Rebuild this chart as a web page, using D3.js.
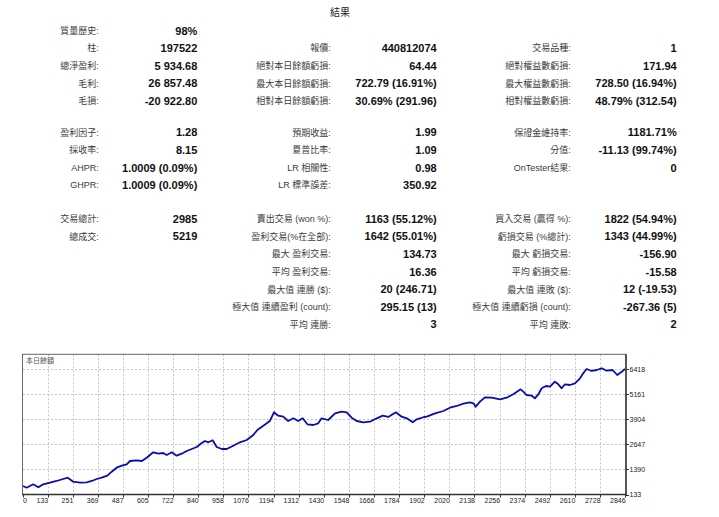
<!DOCTYPE html>
<html>
<head>
<meta charset="utf-8">
<script src="https://cdn.jsdelivr.net/npm/d3@7"></script>
<style>
  html, body { margin: 0; padding: 0; background: #fff; }
  svg { display: block; }
  .lbl { font-family: "Liberation Sans", "Noto Sans CJK TC", sans-serif; font-size: 9px; fill: #3c3c3c; }
  .val { font-family: "Liberation Sans", "Noto Sans CJK TC", sans-serif; font-size: 11px; font-weight: bold; fill: #111; }
  .axis-text { font-family: "Liberation Sans", sans-serif; font-size: 7px; fill: #222; }
</style>
</head>
<body>
<svg width="719" height="517"></svg>
<script>
// table data, one array per group / column
var group1Labels = [
  ["質量歷史:", "柱:", "總淨盈利:", "毛利:", "毛損:"],
  [null, "報價:", "絕對本日餘額虧損:", "最大本日餘額虧損:", "相對本日餘額虧損:"],
  [null, "交易品種:", "絕對權益數虧損:", "最大權益數虧損:", "相對權益數虧損:"]
]
var group1Values = [
  ["98%", "197522", "5 934.68", "26 857.48", "-20 922.80"],
  [null, "440812074", "64.44", "722.79 (16.91%)", "30.69% (291.96)"],
  [null, "1", "171.94", "728.50 (16.94%)", "48.79% (312.54)"]
]
var group2Labels = [
  ["盈利因子:", "採收率:", "AHPR:", "GHPR:"],
  ["預期收益:", "夏普比率:", "LR 相關性:", "LR 標準誤差:"],
  ["保證金維持率:", "分值:", "OnTester結果:", null]
]
var group2Values = [
  ["1.28", "8.15", "1.0009 (0.09%)", "1.0009 (0.09%)"],
  ["1.99", "1.09", "0.98", "350.92"],
  ["1181.71%", "-11.13 (99.74%)", "0", null]
]
var group3Labels = [
  ["交易總計:", "總成交:"],
  ["賣出交易 (won %):", "盈利交易(%在全部):", "最大 盈利交易:", "平均 盈利交易:",
   "最大值 連勝 ($):", "極大值 連續盈利 (count):", "平均 連勝:"],
  ["買入交易 (贏得 %):", "虧損交易 (%總計):", "最大 虧損交易:", "平均 虧損交易:",
   "最大值 連敗 ($):", "極大值 連續虧損 (count):", "平均 連敗:"]
]
var group3Values = [
  ["2985", "5219"],
  ["1163 (55.12%)", "1642 (55.01%)", "134.73", "16.36", "20 (246.71)", "295.15 (13)", "3"],
  ["1822 (54.94%)", "1343 (44.99%)", "-156.90", "-15.58", "12 (-19.53)", "-267.36 (5)", "2"]
]

// balance curve: trade number / balance
var tradeNo = [0, 34, 65, 89, 112, 144, 175, 206, 227, 253, 285, 316, 340, 363, 387, 413, 434, 457, 481, 504,
  520, 551, 575, 598, 629, 653, 676, 692, 716, 739, 763, 786, 810, 833, 857, 872, 888, 908, 927, 951,
  974, 1005, 1036, 1068, 1099, 1118, 1146, 1177, 1196, 1216, 1240, 1263, 1287, 1310, 1331, 1353, 1381, 1404, 1420, 1451,
  1483, 1514, 1538, 1561, 1585, 1616, 1647, 1679, 1707, 1733, 1769, 1796, 1820, 1848, 1867, 1901, 1914, 1953, 1992, 2023,
  2055, 2086, 2117, 2133, 2144, 2164, 2187, 2219, 2258, 2289, 2320, 2355, 2371, 2383, 2407, 2422, 2438, 2454, 2474, 2493,
  2516, 2532, 2548, 2563, 2587, 2610, 2634, 2649, 2665, 2689, 2712, 2736, 2759, 2787, 2809, 2830, 2845]
var balance = [560, 474, 645, 494, 645, 725, 811, 911, 976, 776, 725, 745, 811, 911, 976, 1077, 1278, 1478, 1579, 1649,
  1815, 1850, 1815, 1980, 2251, 2181, 2216, 2116, 2251, 2081, 2181, 2317, 2417, 2518, 2718, 2819, 2753, 2854, 2518, 2417,
  2417, 2583, 2753, 2869, 3120, 3371, 3587, 3823, 4259, 4089, 4039, 3823, 3958, 3823, 3958, 3657, 3622, 3707, 3958, 3873,
  4209, 4290, 4259, 3988, 3823, 3757, 3788, 3958, 4089, 4024, 4259, 4039, 3958, 3757, 3908, 4024, 4039, 4209, 4325, 4490,
  4576, 4691, 4761, 4711, 4541, 4792, 5012, 4992, 4912, 4992, 5163, 5414, 5263, 5128, 5093, 4962, 5163, 5464, 5580, 5545,
  5796, 5665, 5464, 5665, 5630, 5715, 5966, 6217, 6433, 6333, 6383, 6468, 6348, 6383, 6132, 6298, 6433]

var xTickValues = [0, 133, 251, 369, 487, 605, 722, 840, 958, 1076, 1194, 1312, 1430, 1548, 1666, 1784,
  1902, 2020, 2138, 2256, 2374, 2492, 2610, 2728, 2846]
var yTickValues = [133, 1390, 2647, 3904, 5161, 6418]

var svg = d3.select('svg')

svg.append('text')
   .attr('x', 340).attr('y', 12).attr('dy', '0.35em')
   .attr('text-anchor', 'middle')
   .style('font-family', '"Noto Sans CJK TC", sans-serif')
   .style('font-size', '10px')
   .style('fill', '#222')
   .text('結果')

// column right edges: label, value
var colX = [[98.7, 197.3], [330.7, 436.7], [570.7, 676.7]]
var rowStep = 17.6

function drawGroup(labels, values, y0) {
  labels.forEach(function (col, ci) {
    col.forEach(function (lab, ri) {
      var yy = y0 + ri * rowStep
      if (lab) {
        svg.append('text').attr('class', 'lbl')
           .attr('x', colX[ci][0]).attr('y', yy).attr('dy', '0.35em')
           .attr('text-anchor', 'end').text(lab)
      }
      var v = values[ci][ri]
      if (v) {
        svg.append('text').attr('class', 'val')
           .attr('x', colX[ci][1]).attr('y', yy).attr('dy', '0.35em')
           .attr('text-anchor', 'end').text(v)
      }
    })
  })
}

drawGroup(group1Labels, group1Values, 30.7)
drawGroup(group2Labels, group2Values, 132.5)
drawGroup(group3Labels, group3Values, 219)

// chart box
var plotLeft = 23, plotRight = 626, plotTop = 354.3, plotBottom = 494.5

var xScale = d3.scaleLinear()
               .domain([17, 2850])
               .range([plotLeft, plotRight])
               .clamp(true)
var yScale = d3.scaleLinear()
               .domain([133, 7171])
               .range([plotBottom, plotTop])

var grid = svg.append('g')
grid.selectAll('.vgrid')
    .data(xTickValues.slice(1))
    .enter()
    .append('line')
    .attr('x1', d => Math.round(xScale(d)) + 0.5)
    .attr('x2', d => Math.round(xScale(d)) + 0.5)
    .attr('y1', plotTop)
    .attr('y2', plotBottom)
    .attr('stroke', '#c4c4c4')
    .attr('stroke-dasharray', '2,2')
grid.selectAll('.hgrid')
    .data(yTickValues.slice(1))
    .enter()
    .append('line')
    .attr('x1', plotLeft)
    .attr('x2', plotRight)
    .attr('y1', d => Math.round(yScale(d)) + 0.5)
    .attr('y2', d => Math.round(yScale(d)) + 0.5)
    .attr('stroke', '#c4c4c4')
    .attr('stroke-dasharray', '2,2')

svg.append('text')
   .attr('x', 26).attr('y', 360.5).attr('dy', '0.35em')
   .style('font-family', '"Noto Sans CJK TC", sans-serif')
   .style('font-size', '7px')
   .style('fill', '#555')
   .text('本日餘額')

var line = d3.line()
             .x(d => xScale(d[0]))
             .y(d => yScale(d[1]))

svg.append('path')
   .datum(tradeNo.map((t, i) => [t, balance[i]]))
   .attr('d', line)
   .attr('fill', 'none')
   .attr('stroke', '#0c0cae')
   .attr('stroke-width', 1.8)
   .attr('stroke-linejoin', 'round')

// frame
svg.append('rect')
   .attr('x', plotLeft - 0.5).attr('y', plotTop)
   .attr('width', plotRight - plotLeft + 0.5).attr('height', plotBottom - plotTop)
   .attr('fill', 'none')
   .attr('stroke', '#666')
   .attr('stroke-width', 1)
svg.append('line')
   .attr('x1', plotLeft - 1).attr('x2', plotRight + 1)
   .attr('y1', plotBottom).attr('y2', plotBottom)
   .attr('stroke', '#333').attr('stroke-width', 1.6)
svg.append('line')
   .attr('x1', plotRight).attr('x2', plotRight)
   .attr('y1', plotTop).attr('y2', plotBottom)
   .attr('stroke', '#333').attr('stroke-width', 1.4)

// axes
var xAxis = svg.append('g')
xAxis.selectAll('line')
     .data(xTickValues)
     .enter()
     .append('line')
     .attr('x1', d => Math.round(xScale(d)) + 0.5)
     .attr('x2', d => Math.round(xScale(d)) + 0.5)
     .attr('y1', plotBottom)
     .attr('y2', plotBottom + 3)
     .attr('stroke', '#333')
xAxis.selectAll('text')
     .data(xTickValues)
     .enter()
     .append('text')
     .attr('class', 'axis-text')
     .attr('x', d => d == 0 ? plotLeft : xScale(d) + 0.5)
     .attr('y', 502.5)
     .attr('text-anchor', d => d == 0 ? 'start' : 'end')
     .text(d => d)

var yAxis = svg.append('g')
yAxis.selectAll('line')
     .data(yTickValues)
     .enter()
     .append('line')
     .attr('x1', plotRight)
     .attr('x2', plotRight + 3)
     .attr('y1', d => Math.round(yScale(d)) + 0.5)
     .attr('y2', d => Math.round(yScale(d)) + 0.5)
     .attr('stroke', '#333')
yAxis.selectAll('text')
     .data(yTickValues)
     .enter()
     .append('text')
     .attr('class', 'axis-text')
     .attr('x', plotRight + 3.5)
     .attr('y', d => yScale(d))
     .attr('dy', '0.35em')
     .text(d => d)
</script>
</body>
</html>
